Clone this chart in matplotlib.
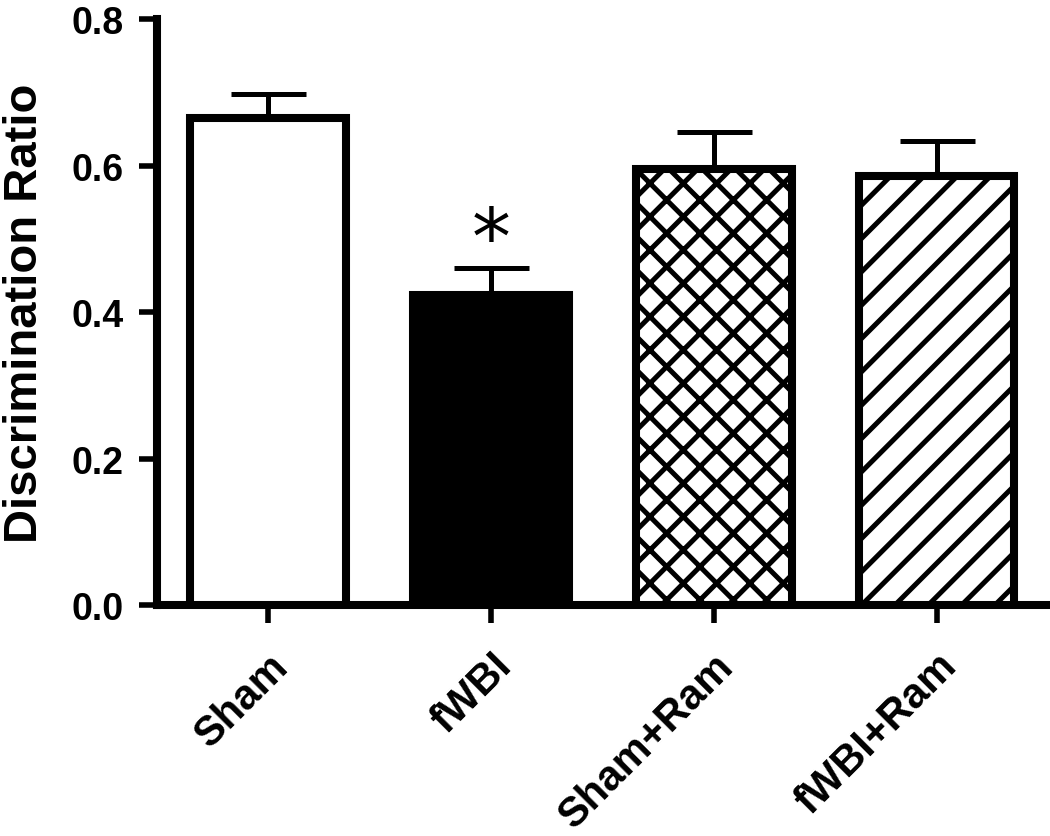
import matplotlib
matplotlib.use("Agg")
import matplotlib.pyplot as plt
from matplotlib.transforms import ScaledTranslation

# data
groups = ["Sham", "fWBI", "Sham+Ram", "fWBI+Ram"]
means = [0.665, 0.423, 0.595, 0.586]
sems = [0.033, 0.037, 0.051, 0.047]
faces = ["white", "black", "white", "white"]
hatches = [None, None, "xx", "//"]
y_ticks = [0.0, 0.2, 0.4, 0.6, 0.8]
signif = ["", "*", "", ""]

plt.rcParams["font.family"] = ["Liberation Sans", "DejaVu Sans"]
plt.rcParams["hatch.linewidth"] = 1.8
plt.rcParams["hatch.color"] = "black"

fig = plt.figure(figsize=(5.25, 4.185), dpi=200)
ax = fig.add_axes([0.1495, 0.276, 0.8485, 0.700])

pos = list(range(len(groups)))
bars = ax.bar(pos, means, width=0.70, color=faces, edgecolor="black",
              linewidth=2.9, zorder=3)
for b, h in zip(bars, hatches):
    if h:
        b.set_hatch(h)

ax.errorbar(pos, means, yerr=[[0] * len(sems), sems], fmt="none",
            ecolor="black", elinewidth=1.8, capsize=13.5, capthick=1.8,
            zorder=2)

for p, m, e, s in zip(pos, means, sems, signif):
    if s:
        ax.text(p, m + e - 0.015, s, ha="center", va="bottom",
                fontsize=28, family="DejaVu Sans")

ax.set_xlim(-0.5, len(groups) - 0.5)
ax.set_ylim(0, 0.8)
ax.set_yticks(y_ticks)
ax.set_yticklabels([f"{v:.1f}" for v in y_ticks], fontsize=13.5,
                   fontweight="bold")
ax.set_xticks(pos)
ax.set_xticklabels(groups, fontsize=15, fontweight="bold", rotation=45,
                   ha="right", rotation_mode="anchor")
shift = ScaledTranslation(-4.5 / 72, 2.5 / 72, fig.dpi_scale_trans)
for lab in ax.get_xticklabels():
    lab.set_transform(lab.get_transform() + shift)
ax.set_ylabel("Discrimination Ratio", fontsize=17, fontweight="bold")
ax.yaxis.set_label_coords(-0.123, 0.5)

ax.spines["top"].set_visible(False)
ax.spines["right"].set_visible(False)
for side in ["left", "bottom"]:
    ax.spines[side].set_linewidth(2.9)
ax.tick_params(axis="y", length=6.5, width=2.0, pad=5.5)
ax.tick_params(axis="x", length=6.5, width=2.0, pad=8)

fig.savefig("out.png", dpi=200)
